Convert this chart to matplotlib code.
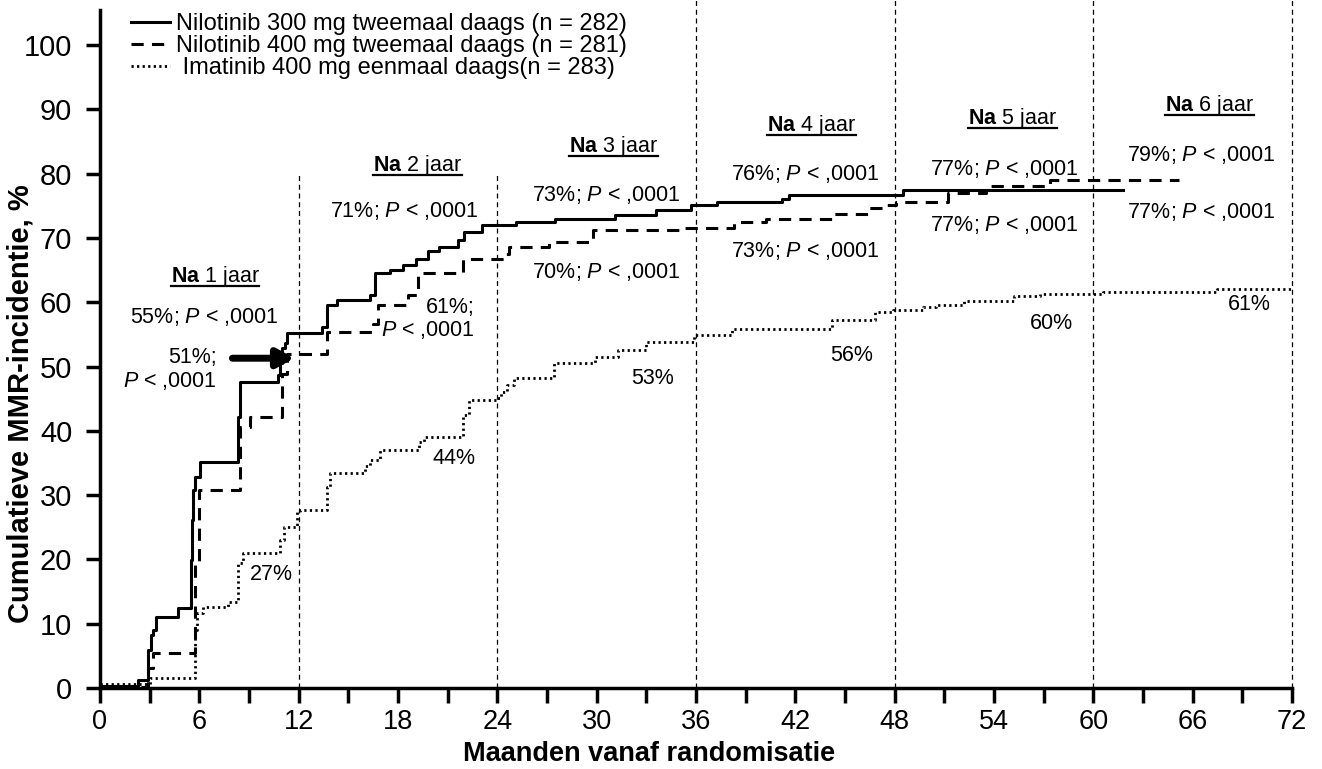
import matplotlib
matplotlib.use("Agg")
import matplotlib.pyplot as plt
from matplotlib.lines import Line2D

plt.rcParams['font.family'] = ['Liberation Sans', 'DejaVu Sans']
plt.rcParams['mathtext.fontset'] = 'custom'
plt.rcParams['mathtext.rm'] = 'Liberation Sans'
plt.rcParams['mathtext.bf'] = 'Liberation Sans:bold'
plt.rcParams['mathtext.it'] = 'Liberation Sans:italic'

# maanden en cumulatieve MMR (%) per arm
nilo300_x = [0, 2.3, 2.92, 3.1, 3.2, 3.4, 4.7, 5.5, 5.55, 5.6, 5.75, 6.04, 8.35, 8.45,
             10.77, 10.9, 11.0, 11.15, 11.3, 13.4, 13.7, 14.3, 16.3, 16.6, 17.5, 18.3,
             19.1, 19.8, 20.5, 21.6, 22.0, 23.05, 25.1, 27.5, 31.1, 33.6, 35.7, 37.3,
             41.2, 41.6, 48.5, 61.8]
nilo300_y = [0.3, 1.2, 5.9, 8.2, 9.0, 11.1, 12.4, 19.9, 26.1, 30.8, 32.9, 35.2, 42.2, 47.6,
             48.7, 50.5, 52.9, 53.7, 55.2, 56.2, 59.6, 60.3, 61.1, 64.5, 65.0, 65.8,
             66.8, 67.9, 68.6, 69.7, 71.0, 72.0, 72.5, 73.0, 73.6, 74.3, 75.1, 75.6,
             76.1, 76.7, 77.5, 77.5]

nilo400_x = [0, 2.9, 3.2, 5.74, 6.0, 8.46, 9.06, 10.97, 11.3, 13.7, 16.5, 16.8, 18.6,
             19.2, 21.9, 24.5, 24.7, 27.1, 29.8, 35.2, 38.3, 40.2, 44.2, 46.4, 47.4,
             48.1, 51.2, 53.5, 57.4, 65.2]
nilo400_y = [0.2, 3.1, 5.4, 19.4, 30.8, 40.6, 42.2, 48.9, 52.0, 55.4, 56.7, 59.6, 61.1,
             64.6, 66.8, 67.5, 68.6, 69.4, 71.2, 71.5, 72.5, 73.0, 73.8, 74.6, 75.1,
             75.6, 77.0, 78.1, 79.0, 79.0]

ima_x = [0, 3.0, 5.74, 5.85, 6.24, 7.75, 8.35, 8.64, 10.87, 11.1, 11.9, 12.1, 13.7, 13.9,
         16.0, 16.3, 16.9, 19.3, 19.6, 21.9, 22.3, 24.0, 24.2, 24.6, 25.0, 27.4, 29.9,
         31.3, 33.0, 35.9, 38.2, 44.2, 46.8, 47.9, 49.7, 50.5, 52.2, 55.2, 56.8, 60.6,
         67.5, 72.0]
ima_y = [0.7, 1.5, 9.0, 11.7, 12.6, 13.4, 19.4, 21.0, 23.0, 25.1, 27.4, 27.7, 31.3, 33.4,
         34.5, 35.5, 37.0, 38.2, 39.1, 42.5, 44.8, 45.1, 46.0, 47.1, 48.2, 50.5, 51.5,
         52.6, 53.9, 54.9, 55.9, 57.2, 58.5, 58.8, 59.3, 59.6, 60.2, 60.9, 61.3, 61.6,
         62.0, 62.0]

legend_labels = ['Nilotinib 300 mg tweemaal daags (n = 282)',
                 'Nilotinib 400 mg tweemaal daags (n = 281)',
                 ' Imatinib 400 mg eenmaal daags(n = 283)']

jaar_lijnen = [12, 24, 36, 48, 60, 72]
jaar_titels = [(6.95, 63.2, '1'), (19.2, 80.4, '2'), (31.0, 83.3, '3'),
               (43.0, 86.7, '4'), (55.1, 87.7, '5'), (67.0, 89.8, '6')]

P = r'$\mathit{P}$'
annotaties = [
    (6.3, 57.7, '55%; ' + P + ' < ,0001', 'center'),
    (22.65, 57.4, '61%;\n' + P + ' < ,0001', 'right'),
    (18.4, 74.2, '71%; ' + P + ' < ,0001', 'center'),
    (30.6, 76.7, '73%; ' + P + ' < ,0001', 'center'),
    (30.6, 64.7, '70%; ' + P + ' < ,0001', 'center'),
    (42.6, 80.0, '76%; ' + P + ' < ,0001', 'center'),
    (42.6, 67.9, '73%; ' + P + ' < ,0001', 'center'),
    (54.6, 80.8, '77%; ' + P + ' < ,0001', 'center'),
    (54.6, 72.0, '77%; ' + P + ' < ,0001', 'center'),
    (66.5, 82.9, '79%; ' + P + ' < ,0001', 'center'),
    (66.5, 74.1, '77%; ' + P + ' < ,0001', 'center'),
    (10.37, 17.6, '27%', 'center'),
    (21.4, 35.7, '44%', 'center'),
    (33.4, 48.2, '53%', 'center'),
    (45.4, 51.8, '56%', 'center'),
    (57.5, 56.7, '60%', 'center'),
    (69.4, 59.6, '61%', 'center'),
]

fig = plt.figure(figsize=(13.22, 7.69), dpi=100)
ax = fig.add_axes([0.0756, 0.1053, 0.9017, 0.882])

l1, = ax.step(nilo300_x, nilo300_y, where='post', color='black', lw=2.2)
l2, = ax.step(nilo400_x, nilo400_y, where='post', color='black', lw=2.2,
              dashes=(4, 2.7))
l3, = ax.step(ima_x, ima_y, where='post', color='black', lw=2.0,
              dashes=(0.8, 1.2))

for m in jaar_lijnen:
    top = 80.3 if m <= 24 else 108
    ax.plot([m, m], [0, top], color='black', lw=0.9, dashes=(4, 3), clip_on=False)

ax.set_xlim(0, 72)
ax.set_ylim(0, 105.5)
ax.set_xticks(range(0, 73, 6))
ax.set_xticks(range(3, 73, 6), minor=True)
ax.set_yticks(range(0, 101, 10))
ax.tick_params(axis='x', which='both', direction='out', length=11, width=2.5,
               labelsize=19.5, pad=4)
ax.tick_params(axis='y', direction='out', length=10, width=2.5, labelsize=21, pad=10)
for s in ['top', 'right']:
    ax.spines[s].set_visible(False)
for s in ['left', 'bottom']:
    ax.spines[s].set_linewidth(2.5)

ax.set_xlabel('Maanden vanaf randomisatie', fontsize=19.5, fontweight='bold',
              va='bottom')
ax.set_ylabel('Cumulatieve MMR-incidentie, %', fontsize=21, fontweight='bold')
ax.xaxis.set_label_coords(0.461, -0.1165)
ax.yaxis.set_label_coords(-0.055, 0.42)

ax.legend([l1, l2, l3], legend_labels, loc='upper left', bbox_to_anchor=(0.018, 1.009),
          frameon=False, fontsize=17, handlelength=1.65, handletextpad=0.25,
          labelspacing=0.0, borderaxespad=0)

for x, y, t, ha in annotaties:
    ax.text(x, y, t, ha=ha, va='center', fontsize=15.5, linespacing=1.1)

ax.text(7.07, 49.5, '51%;\n' + P + ' < ,0001', ha='right', va='center', fontsize=15.5,
        linespacing=1.1)
ax.annotate('', xy=(11.75, 51.3), xytext=(8.0, 51.3),
            arrowprops=dict(arrowstyle='-|>,head_length=1.0,head_width=0.55',
                            lw=5, color='black', shrinkA=0, shrinkB=0))

titels = []
for x, y, n in jaar_titels:
    titels.append(ax.text(x, y, r'$\mathbf{Na}$ ' + n + ' jaar', ha='center',
                          va='baseline', fontsize=15.5))

# onderstreping onder de jaartitels
fig.canvas.draw()
r = fig.canvas.get_renderer()
for t in titels:
    bb = t.get_window_extent(renderer=r)
    xb, yb = ax.transData.transform(t.get_position())
    y_line = (yb - 4) / fig.bbox.height
    fig.add_artist(Line2D([bb.x0 / fig.bbox.width, bb.x1 / fig.bbox.width],
                          [y_line, y_line], color='black', lw=1.6))

fig.savefig('out.png', dpi=100)
